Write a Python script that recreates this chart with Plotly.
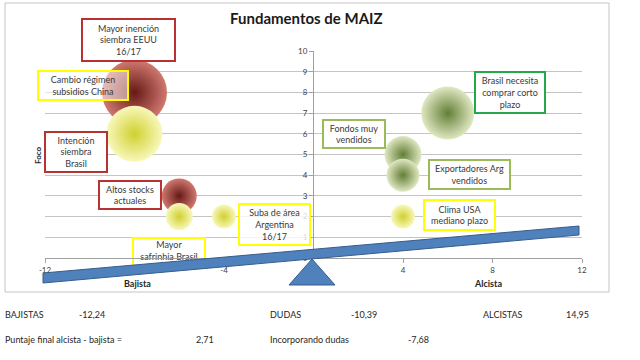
import plotly.graph_objects as go

# ---------------- data ----------------
# bubbles: x = bajista(-)/alcista(+), y = foco, peso = importance (bubble size)
red_x = [-8, -6]
red_y = [8, 3]
red_peso = [6.5, 3.5]

yel_x = [-8, -6, -4, 4]
yel_y = [6, 2, 2, 2]
yel_peso = [5.6, 2.7, 2.4, 2.4]

grn_x = [6, 4, 4]
grn_y = [7, 5, 4]
grn_peso = [5.3, 3.7, 3.3]

x_ticks = [-12, -4, 4, 8, 12]
y_ticks = list(range(0, 11))

row1_labels = ["BAJISTAS", "-12,24", "DUDAS", "-10,39", "ALCISTAS", "14,95"]
row2_labels = ["Puntaje final alcista - bajista =", "2,71", "Incorporando dudas", "-7,68"]

# ---------------- geometry (pixels of the 640x360 canvas) ----------------
W, H = 640, 360
PL, PR, PT, PB = 45, 582, 51, 291
Y0PX = 258
PXY = (Y0PX - PT) / 10.0
YMIN = -(PB - Y0PX) / PXY


def pp(px, py):
    return (px - PL) / (PR - PL), (PB - py) / (PB - PT)


def pdata(px, py):
    return -12 + (px - PL) / (PR - PL) * 24, (Y0PX - py) / PXY


FONT = "Lato"
TXT = "#3a3a3a"
RED = "#b83232"
YEL = "#ffff00"
OLV = "#9bbb59"
GRN = "#23a84a"

fig = go.Figure()

SIZEREF = 0.1


def sphere(x, y, peso, center, edge):
    fig.add_trace(go.Scatter(
        x=x, y=y, mode="markers", hoverinfo="skip", showlegend=False,
        marker=dict(size=peso, sizemode="diameter", sizeref=SIZEREF,
                    color=center, line=dict(width=0), opacity=1,
                    gradient=dict(type="radial", color=edge)),
    ))


sphere(red_x, red_y, red_peso, "#d07870", "#661915")
sphere(yel_x, yel_y, yel_peso, "#f8f8bc", "#d0d030")
sphere(grn_x, grn_y, grn_peso, "#e0e8c2", "#637e36")

# "Mayor safrinhia Brasil" box sits under the beam: rect shape + text trace
sb = (133, 238, 205, 268)
x0, y0 = pdata(sb[0], sb[1])
x1, y1 = pdata(sb[2], sb[3])
fig.add_shape(type="rect", xref="x", yref="y", x0=x0, y0=y0, x1=x1, y1=y1,
              layer="between", fillcolor="white", line=dict(color=YEL, width=2))
tx, ty = pdata((sb[0] + sb[2]) / 2, 252)
fig.add_trace(go.Scatter(x=[tx], y=[ty], mode="text", text=["Mayor<br>safrinhia Brasil"],
                         textfont=dict(family=FONT, size=9, color=TXT), hoverinfo="skip",
                         showlegend=False, cliponaxis=False))

# y axis line at x = 0
fig.add_shape(type="line", xref="x", yref="y", x0=0, x1=0, y0=0, y1=10,
              layer="between", line=dict(color="#a0a0a0", width=1))

# outer chart border
bx0, by0 = pp(5, 3)
bx1, by1 = pp(609, 292)
fig.add_shape(type="rect", xref="paper", yref="paper", x0=bx0, y0=by0, x1=bx1, y1=by1,
              layer="below", line=dict(color="#c4c4c4", width=1), fillcolor="rgba(0,0,0,0)")


def path_px(points):
    s = ""
    for i, (px, py) in enumerate(points):
        a, b = pp(px, py)
        s += ("M" if i == 0 else "L") + f"{a:.5f},{b:.5f} "
    return s + "Z"


# beam
fig.add_shape(type="path", xref="paper", yref="paper", layer="above",
              path=path_px([(43, 273), (579, 226), (579, 235), (43, 283)]),
              fillcolor="#4f81bd", line=dict(color="#385d8a", width=1))
# fulcrum triangle
fig.add_shape(type="path", xref="paper", yref="paper", layer="above",
              path=path_px([(289, 285), (312, 259), (335, 285)]),
              fillcolor="#4f81bd", line=dict(color="#385d8a", width=1))

# label boxes
boxes = [
    ("Mayor inención<br>siembra EEUU<br>16/17", RED, (81, 18, 176, 62), "white"),
    ("Cambio régimen<br>subsidios China", YEL, (37, 70, 129, 101), "rgba(255,255,255,0.5)"),
    ("Intención<br>siembra<br>Brasil", RED, (44, 131, 108, 173), "white"),
    ("Altos stocks<br>actuales", RED, (98, 180, 162, 210), "white"),
    ("Suba de área<br>Argentina<br>16/17", YEL, (238, 203, 311, 246), "rgba(255,255,255,0.8)"),
    ("Fondos muy<br>vendidos", OLV, (322, 119, 386, 149), "white"),
    ("Brasil necesita<br>comprar corto<br>plazo", GRN, (474, 71, 546, 114), "white"),
    ("Exportadores Arg<br>vendidos", OLV, (428, 159, 511, 190), "white"),
    ("Clima USA<br>mediano plazo", YEL, (423, 199, 496, 231), "white"),
]
annotations = []
for text, col, (l, t, r, b), bg in boxes:
    ax, ay = pp((l + r) / 2, (t + b) / 2)
    annotations.append(dict(
        text=text, xref="paper", yref="paper", x=ax, y=ay, xanchor="center", yanchor="middle",
        showarrow=False, font=dict(family=FONT, size=9, color=TXT),
        bordercolor=col, borderwidth=2, borderpad=0, bgcolor=bg,
        width=r - l - 4, height=b - t - 4, align="center", valign="middle"))

# title
tx_, ty_ = pp(306, 18)
annotations.append(dict(text="<b>Fundamentos de MAIZ</b>", xref="paper", yref="paper",
                        x=tx_, y=ty_, xanchor="center", yanchor="middle", showarrow=False,
                        font=dict(family=FONT, size=15, color="#1a1a1a")))

# axis titles
for text, (px, py), ang, size in [("Bajista", (137, 283), 0, 9), ("Alcista", (488, 283), 0, 9),
                                  ("Foco", (38, 155), -90, 8)]:
    a, b = pp(px, py)
    annotations.append(dict(text=f"<b>{text}</b>", xref="paper", yref="paper", x=a, y=b,
                            xanchor="center", yanchor="middle", showarrow=False, textangle=ang,
                            font=dict(family=FONT, size=size, color="#262626")))

# summary text below the chart
row1_x = [3, 77, 268, 349, 481, 564]
row2_x = [3, 194, 268, 406]
for labels, xs, py in [(row1_labels, row1_x, 314), (row2_labels, row2_x, 339)]:
    for text, px in zip(labels, xs):
        a, b = pp(px, py)
        annotations.append(dict(text=text, xref="paper", yref="paper", x=a, y=b,
                                xanchor="left", yanchor="middle", showarrow=False,
                                font=dict(family=FONT, size=9, color="#262626")))

fig.update_layout(
    width=W, height=H,
    margin=dict(l=PL, r=W - PR, t=PT, b=H - PB, pad=0),
    paper_bgcolor="white", plot_bgcolor="white",
    showlegend=False,
    annotations=annotations,
    xaxis=dict(range=[-12, 12], anchor="free", position=(PB - Y0PX) / (PB - PT),
               showgrid=False, zeroline=False, showline=True, linecolor="#a0a0a0",
               ticks="outside", ticklen=4, tickcolor="#a0a0a0", tickvals=x_ticks,
               ticktext=[str(v) for v in x_ticks],
               tickfont=dict(family=FONT, size=8, color="#404040")),
    yaxis=dict(range=[YMIN, 10], anchor="free", position=(313 - PL) / (PR - PL),
               showgrid=True, gridcolor="#c4c4c4", gridwidth=1, zeroline=False,
               showline=False, ticks="outside", ticklen=4, tickcolor="#a0a0a0",
               tickvals=y_ticks, tickfont=dict(family=FONT, size=8, color="#404040")),
)

fig.write_html("out.html", config={"displayModeBar": False},
               post_script="document.body.style.margin='0px';document.body.style.overflow='hidden';")
